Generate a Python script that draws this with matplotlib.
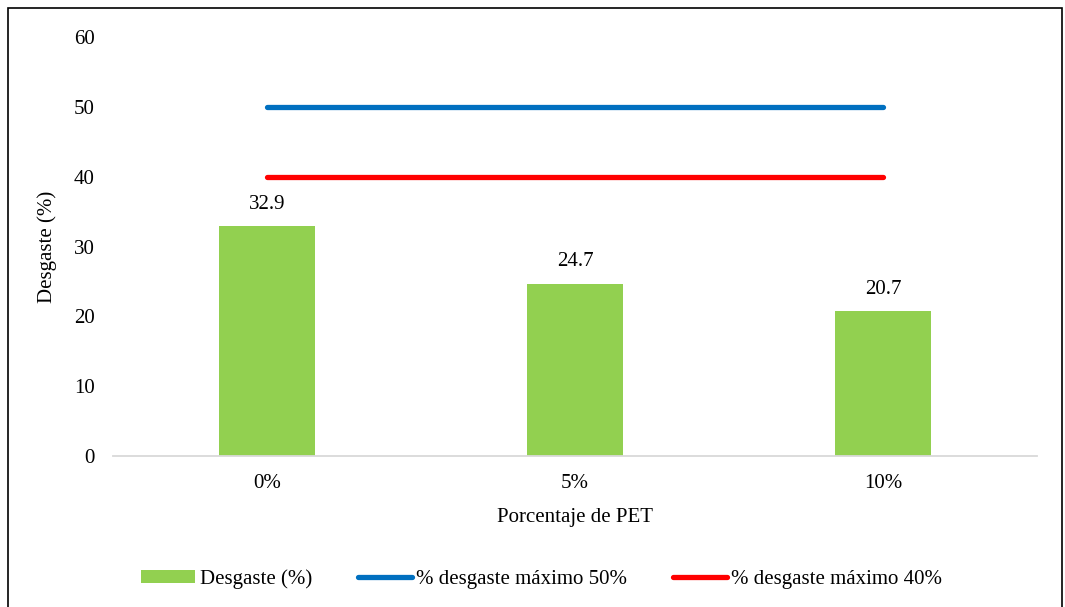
import matplotlib

matplotlib.use("Agg")
import matplotlib.pyplot as plt
from matplotlib.patches import Rectangle

categories = ["0%", "5%", "10%"]
desgaste = [32.9, 24.7, 20.7]
max50 = [50, 50, 50]
max40 = [40, 40, 40]
yticks = [0, 10, 20, 30, 40, 50, 60]

plt.rcParams["font.family"] = ["Liberation Serif", "DejaVu Serif"]
plt.rcParams["font.size"] = 15

fig = plt.figure(figsize=(10.65, 6.07), dpi=100)
ax = fig.add_axes([0.1061, 0.2488, 0.8676, 0.6902])

x = list(range(len(categories)))
b = ax.bar(x, desgaste, width=0.31, color="#92D050", label="Desgaste (%)", zorder=2)
l50, = ax.plot(x, max50, color="#0070C0", lw=3.8, solid_capstyle="round",
               label="% desgaste máximo 50%", zorder=3)
l40, = ax.plot(x, max40, color="#FF0000", lw=3.8, solid_capstyle="round",
               label="% desgaste máximo 40%", zorder=3)

for xi, v in zip(x, desgaste):
    ax.annotate(f"{v:.1f}", (xi, v), xytext=(0, 16), textcoords="offset points",
                ha="center", va="center", fontsize=15)

ax.set_xlim(-0.5, 2.5)
ax.set_ylim(0, 60)
ax.set_yticks(yticks)
ax.set_xticks(x)
ax.set_xticklabels(categories)
ax.tick_params(axis="both", length=0, labelsize=15, colors="#000000")
ax.tick_params(axis="y", pad=13)
ax.tick_params(axis="x", pad=13)
for s in ["top", "right", "left"]:
    ax.spines[s].set_visible(False)
ax.spines["bottom"].set_color("#D9D9D9")
ax.spines["bottom"].set_linewidth(1.3)

ax.set_xlabel("Porcentaje de PET", fontsize=15, labelpad=11)
ax.set_ylabel("Desgaste (%)", fontsize=15, labelpad=12)

ax.legend(handles=[b, l50, l40], loc="center", bbox_to_anchor=(0.464, -0.294),
          ncol=3, frameon=False, fontsize=15, handlelength=2.6, handleheight=0.55,
          handletextpad=0.2, columnspacing=2.2)

fig.patches.append(Rectangle((0.0075, -0.01), 0.99, 0.997, transform=fig.transFigure,
                             fill=False, edgecolor="black", lw=1.2))

fig.savefig("out.png", dpi=100)
